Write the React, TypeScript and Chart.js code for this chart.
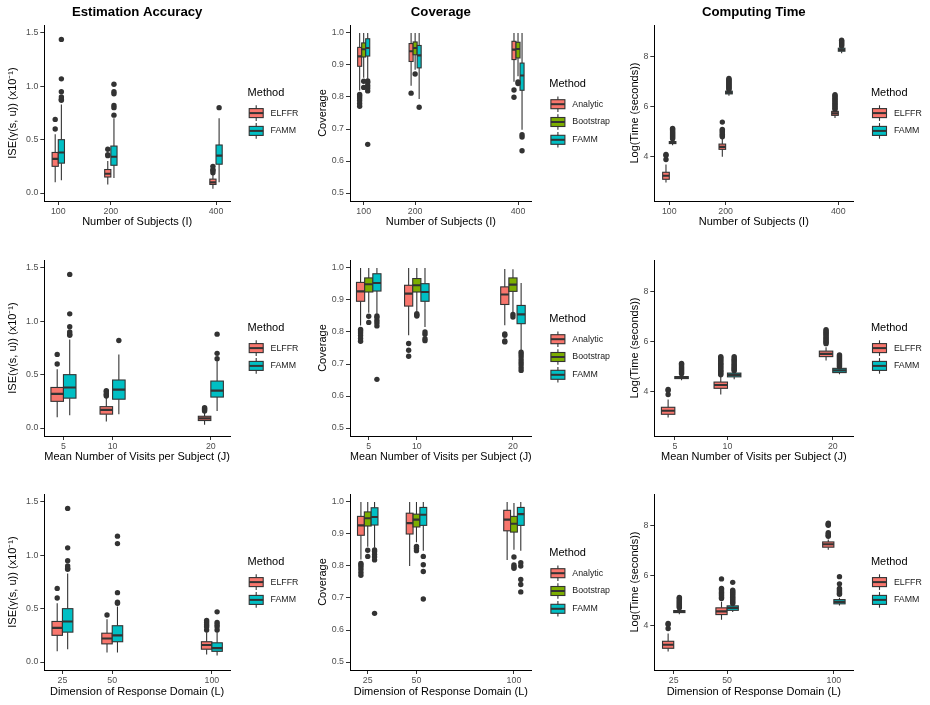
import React, { useEffect, useRef } from 'react';
import { Chart, registerables } from 'chart.js';

Chart.register(...registerables);

const FONT = '"Liberation Sans", Arial, Helvetica, sans-serif';
Chart.defaults.font.family = FONT;

// Simulation settings shown on the x axis of each row
const subjectsI = [100, 200, 400];
const visitsJ = [5, 10, 20];
const domainL = [25, 50, 100];

// y-axis tick values
const iseTicks = [0, 0.5, 1.0, 1.5];
const coverageTicks = [0.5, 0.6, 0.7, 0.8, 0.9, 1.0];
const timeTicks = [4, 6, 8];

// Box summaries per setting: [lower whisker, Q1, median, Q3, upper whisker]; outliers listed separately.
// Baseline scenario (I = 100, J = 5, L = 25) appears in every row.
const baseIseELFFR = [0.10, 0.25, 0.32, 0.38, 0.55];
const baseIseELFFROut = [0.60, 0.69];
const baseIseFAMM = [0.12, 0.28, 0.38, 0.50, 0.83];
const baseIseFAMMOut = [0.87, 0.88, 0.90, 0.95, 1.07, 1.44];

const baseCovAnalytic = [0.82, 0.896, 0.927, 0.955, 1.0];
const baseCovAnalyticOut = [0.771, 0.78, 0.789, 0.797, 0.803, 0.808];
const baseCovBootstrap = [0.86, 0.925, 0.949, 0.969, 1.0];
const baseCovBootstrapOut = [0.83, 0.849];
const baseCovFAMM = [0.857, 0.928, 0.953, 0.982, 1.0];
const baseCovFAMMOut = [0.652, 0.819, 0.828, 0.836, 0.845, 0.85];

const baseTimeELFFR = [2.97, 3.10, 3.24, 3.38, 3.69];
const baseTimeELFFROut = [3.89, 4.05, 4.09];
const baseTimeFAMM = [4.46, 4.53, 4.57, 4.61, 4.68];
const baseTimeFAMMOut = [4.72, 4.76, 4.80, 4.84, 4.88, 4.92, 4.96, 5.00, 5.05, 5.10, 5.14];

// Estimation accuracy
const iseI_ELFFR = [baseIseELFFR, [0.08, 0.15, 0.18, 0.22, 0.30], [0.04, 0.08, 0.10, 0.13, 0.17]];
const iseI_ELFFR_out = [baseIseELFFROut, [0.35, 0.36, 0.41], [0.19, 0.21, 0.22, 0.25]];
const iseI_FAMM = [baseIseFAMM, [0.14, 0.26, 0.34, 0.44, 0.70], [0.10, 0.27, 0.35, 0.45, 0.70]];
const iseI_FAMM_out = [baseIseFAMMOut, [0.73, 0.80, 0.82, 0.93, 0.95, 1.02], [0.80]];

const iseJ_ELFFR = [baseIseELFFR, [0.06, 0.13, 0.17, 0.20, 0.29], [0.03, 0.07, 0.09, 0.11, 0.15]];
const iseJ_ELFFR_out = [baseIseELFFROut, [0.30, 0.31, 0.32, 0.34, 0.35], [0.16, 0.17, 0.18, 0.19]];
const iseJ_FAMM = [baseIseFAMM, [0.13, 0.27, 0.36, 0.45, 0.69], [0.16, 0.29, 0.35, 0.44, 0.64]];
const iseJ_FAMM_out = [baseIseFAMMOut, [0.82], [0.65, 0.70, 0.88]];

const iseL_ELFFR = [baseIseELFFR, [0.09, 0.17, 0.22, 0.27, 0.40], [0.07, 0.12, 0.16, 0.19, 0.28]];
const iseL_ELFFR_out = [baseIseELFFROut, [0.44], [0.30, 0.33, 0.35, 0.37, 0.39]];
const iseL_FAMM = [baseIseFAMM, [0.09, 0.19, 0.25, 0.34, 0.52], [0.06, 0.10, 0.13, 0.18, 0.28]];
const iseL_FAMM_out = [baseIseFAMMOut, [0.55, 0.56, 0.65, 1.11, 1.18], [0.30, 0.33, 0.35, 0.37, 0.47]];

// Coverage
const covI_Analytic = [baseCovAnalytic, [0.835, 0.911, 0.943, 0.967, 1.0], [0.848, 0.917, 0.948, 0.974, 1.0]];
const covI_Analytic_out = [baseCovAnalyticOut, [0.812], [0.799, 0.822]];
const covI_Bootstrap = [baseCovBootstrap, [0.885, 0.932, 0.953, 0.972, 1.0], [0.865, 0.922, 0.950, 0.971, 1.0]];
const covI_Bootstrap_out = [baseCovBootstrapOut, [0.872], [0.842, 0.847]];
const covI_FAMM = [baseCovFAMM, [0.794, 0.891, 0.930, 0.961, 1.0], [0.698, 0.821, 0.867, 0.906, 1.0]];
const covI_FAMM_out = [baseCovFAMMOut, [0.768], [0.632, 0.675, 0.682]];

const covJ_Analytic = [baseCovAnalytic, [0.79, 0.881, 0.920, 0.946, 1.0], [0.821, 0.886, 0.917, 0.941, 0.997]];
const covJ_Analytic_out = [baseCovAnalyticOut, [0.724, 0.743, 0.764], [0.769, 0.772, 0.79, 0.794]];
const covJ_Bootstrap = [baseCovBootstrap, [0.865, 0.925, 0.946, 0.967, 1.0], [0.862, 0.927, 0.948, 0.969, 0.996]];
const covJ_Bootstrap_out = [baseCovBootstrapOut, [0.85, 0.853, 0.857], [0.847, 0.855]];
const covJ_FAMM = [baseCovFAMM, [0.816, 0.896, 0.925, 0.951, 1.0], [0.743, 0.826, 0.855, 0.883, 0.953]];
const covJ_FAMM_out = [baseCovFAMMOut, [0.773, 0.779, 0.793, 0.80], [0.68, 0.688, 0.697, 0.705, 0.713, 0.722, 0.73, 0.737]];

const covL_Analytic = [baseCovAnalytic, [0.80, 0.900, 0.934, 0.965, 1.0], [0.819, 0.910, 0.945, 0.974, 1.0]];
const covL_Analytic_out = [baseCovAnalyticOut, [], []];
const covL_Bootstrap = [baseCovBootstrap, [0.874, 0.922, 0.945, 0.962, 1.0], [0.851, 0.906, 0.932, 0.955, 0.997]];
const covL_Bootstrap_out = [baseCovBootstrapOut, [0.848, 0.855, 0.861], [0.793, 0.798, 0.803, 0.828]];
const covL_FAMM = [baseCovFAMM, [0.848, 0.927, 0.960, 0.983, 1.0], [0.848, 0.927, 0.962, 0.983, 1.0]];
const covL_FAMM_out = [baseCovFAMMOut, [0.697, 0.783, 0.804, 0.830], [0.719, 0.742, 0.758, 0.80, 0.81]];

// Computing time, log seconds
const timeI_ELFFR = [baseTimeELFFR, [4.0, 4.30, 4.40, 4.51, 4.74], [5.55, 5.66, 5.74, 5.82, 5.87]];
const timeI_ELFFR_out = [
  baseTimeELFFROut,
  [4.80, 4.85, 4.90, 4.95, 5.00, 5.05, 5.10, 5.39],
  [5.90, 5.95, 6.00, 6.05, 6.10, 6.15, 6.20, 6.25, 6.30, 6.35, 6.40, 6.45, 6.49],
];
const timeI_FAMM = [baseTimeFAMM, [6.45, 6.52, 6.57, 6.63, 6.67], [8.15, 8.23, 8.28, 8.35, 8.41]];
const timeI_FAMM_out = [
  baseTimeFAMMOut,
  [6.70, 6.74, 6.78, 6.82, 6.86, 6.90, 6.94, 6.98, 7.02, 7.06, 7.10, 7.14],
  [8.44, 8.48, 8.52, 8.56, 8.60, 8.64, 8.67],
];

const timeJ_ELFFR = [baseTimeELFFR, [3.89, 4.14, 4.27, 4.39, 4.64], [5.25, 5.41, 5.52, 5.63, 5.79]];
const timeJ_ELFFR_out = [
  baseTimeELFFROut,
  [4.68, 4.72, 4.77, 4.82, 4.86, 4.91, 4.96, 5.00, 5.05, 5.10, 5.14, 5.19, 5.24, 5.28, 5.33, 5.37, 5.41],
  [5.93, 5.98, 6.03, 6.08, 6.13, 6.18, 6.24, 6.29, 6.34, 6.39, 6.44, 6.49],
];
const timeJ_FAMM = [baseTimeFAMM, [4.50, 4.60, 4.68, 4.75, 4.80], [4.70, 4.77, 4.86, 4.94, 4.97]];
const timeJ_FAMM_out = [
  baseTimeFAMMOut,
  [4.84, 4.88, 4.92, 4.96, 5.00, 5.05, 5.10, 5.15, 5.20, 5.25, 5.30, 5.35, 5.41],
  [5.00, 5.04, 5.08, 5.12, 5.16, 5.20, 5.24, 5.28, 5.32, 5.36, 5.40, 5.44, 5.48],
];

const timeL_ELFFR = [baseTimeELFFR, [4.24, 4.45, 4.58, 4.72, 4.96], [7.05, 7.15, 7.27, 7.36, 7.46]];
const timeL_ELFFR_out = [
  baseTimeELFFROut,
  [5.09, 5.14, 5.19, 5.24, 5.29, 5.34, 5.39, 5.45, 5.50, 5.88],
  [7.59, 7.63, 7.68, 7.73, 8.03, 8.07, 8.11],
];
const timeL_FAMM = [baseTimeFAMM, [4.55, 4.62, 4.72, 4.80, 4.86], [4.81, 4.88, 4.96, 5.05, 5.12]];
const timeL_FAMM_out = [
  baseTimeFAMMOut,
  [4.89, 4.94, 4.99, 5.04, 5.09, 5.14, 5.19, 5.24, 5.29, 5.34, 5.39, 5.43, 5.74],
  [5.26, 5.30, 5.35, 5.40, 5.45, 5.50, 5.68, 5.97],
];

const methodColors: Record<string, string> = {
  ELFFR: '#F8766D',
  Analytic: '#F8766D',
  Bootstrap: '#7CAE00',
  FAMM: '#00BFC4',
};

// Grid geometry (page pixels)
const COLS = [
  { x: 0, w: 305, plotLeft: 44.3, plotRight: 230, yTitleX: 13.3 },
  { x: 305, w: 315, plotLeft: 350, plotRight: 531.7, yTitleX: 323.3 },
  { x: 620, w: 310, plotLeft: 654.3, plotRight: 853.3, yTitleX: 635 },
];
const ROWS = [
  { y: 0, h: 235, plotTop: 25, plotBottom: 201 },
  { y: 235, h: 235, plotTop: 260, plotBottom: 436 },
  { y: 470, h: 235, plotTop: 494, plotBottom: 670 },
];

// x-axis ranges and the total dodge width (x units) for each row
const ROW_X = [
  { xs: subjectsI, min: 73.4, max: 426.6, dodge: 23.5, title: 'Number of Subjects (I)' },
  { xs: visitsJ, min: 3.05, max: 21.95, dodge: 2.55, title: 'Mean Number of Visits per Subject (J)' },
  { xs: domainL, min: 15.9, max: 109.1, dodge: 10.5, title: 'Dimension of Response Domain (L)' },
];

const COL_Y = [
  { min: -0.075, max: 1.575, ticks: iseTicks, decimals: 1, title: 'ISE(γ(s, u)) (x10⁻¹)', header: 'Estimation Accuracy' },
  { min: 0.475, max: 1.025, ticks: coverageTicks, decimals: 1, title: 'Coverage', header: 'Coverage' },
  { min: 2.23, max: 9.28, ticks: timeTicks, decimals: 0, title: 'Log(Time (seconds))', header: 'Computing Time' },
];

type Series = { name: string; stats: number[][]; out: number[][] };
type PanelSpec = { row: number; col: number; series: Series[] };

const PANELS: PanelSpec[] = [
  { row: 0, col: 0, series: [{ name: 'ELFFR', stats: iseI_ELFFR, out: iseI_ELFFR_out }, { name: 'FAMM', stats: iseI_FAMM, out: iseI_FAMM_out }] },
  { row: 0, col: 1, series: [{ name: 'Analytic', stats: covI_Analytic, out: covI_Analytic_out }, { name: 'Bootstrap', stats: covI_Bootstrap, out: covI_Bootstrap_out }, { name: 'FAMM', stats: covI_FAMM, out: covI_FAMM_out }] },
  { row: 0, col: 2, series: [{ name: 'ELFFR', stats: timeI_ELFFR, out: timeI_ELFFR_out }, { name: 'FAMM', stats: timeI_FAMM, out: timeI_FAMM_out }] },
  { row: 1, col: 0, series: [{ name: 'ELFFR', stats: iseJ_ELFFR, out: iseJ_ELFFR_out }, { name: 'FAMM', stats: iseJ_FAMM, out: iseJ_FAMM_out }] },
  { row: 1, col: 1, series: [{ name: 'Analytic', stats: covJ_Analytic, out: covJ_Analytic_out }, { name: 'Bootstrap', stats: covJ_Bootstrap, out: covJ_Bootstrap_out }, { name: 'FAMM', stats: covJ_FAMM, out: covJ_FAMM_out }] },
  { row: 1, col: 2, series: [{ name: 'ELFFR', stats: timeJ_ELFFR, out: timeJ_ELFFR_out }, { name: 'FAMM', stats: timeJ_FAMM, out: timeJ_FAMM_out }] },
  { row: 2, col: 0, series: [{ name: 'ELFFR', stats: iseL_ELFFR, out: iseL_ELFFR_out }, { name: 'FAMM', stats: iseL_FAMM, out: iseL_FAMM_out }] },
  { row: 2, col: 1, series: [{ name: 'Analytic', stats: covL_Analytic, out: covL_Analytic_out }, { name: 'Bootstrap', stats: covL_Bootstrap, out: covL_Bootstrap_out }, { name: 'FAMM', stats: covL_FAMM, out: covL_FAMM_out }] },
  { row: 2, col: 2, series: [{ name: 'ELFFR', stats: timeL_ELFFR, out: timeL_ELFFR_out }, { name: 'FAMM', stats: timeL_FAMM, out: timeL_FAMM_out }] },
];

const OUTLINE = '#333333';

// Dodged x position of a series' box at each setting
function boxCenters(xs: number[], dodge: number, n: number, i: number) {
  const slot = dodge / n;
  return xs.map((x) => x + (i - (n - 1) / 2) * slot);
}

function makeBoxPlugin(p: PanelSpec) {
  const rx = ROW_X[p.row];
  return {
    id: 'boxes',
    beforeDatasetsDraw(chart: any) {
      const { ctx, chartArea, scales } = chart;
      const xs = scales.x;
      const ys = scales.y;
      const n = p.series.length;
      const slot = rx.dodge / n;
      ctx.save();
      ctx.beginPath();
      ctx.rect(chartArea.left, chartArea.top, chartArea.right - chartArea.left, chartArea.bottom - chartArea.top);
      ctx.clip();
      p.series.forEach((s, i) => {
        const centers = boxCenters(rx.xs, rx.dodge, n, i);
        s.stats.forEach((st, k) => {
          const c = centers[k];
          const left = xs.getPixelForValue(c - slot / 2);
          const right = xs.getPixelForValue(c + slot / 2);
          const mid = xs.getPixelForValue(c);
          const [lo, q1, med, q3, hi] = st.map((v) => ys.getPixelForValue(v));
          ctx.strokeStyle = OUTLINE;
          ctx.lineWidth = 1.1;
          ctx.beginPath();
          ctx.moveTo(mid, lo);
          ctx.lineTo(mid, q1);
          ctx.moveTo(mid, q3);
          ctx.lineTo(mid, hi);
          ctx.stroke();
          ctx.fillStyle = methodColors[s.name];
          ctx.fillRect(left, q3, right - left, q1 - q3);
          ctx.strokeRect(left, q3, right - left, q1 - q3);
          ctx.lineWidth = 2.1;
          ctx.beginPath();
          ctx.moveTo(left, med);
          ctx.lineTo(right, med);
          ctx.stroke();
        });
      });
      ctx.restore();
    },
  };
}

function makeLegendPlugin(p: PanelSpec) {
  return {
    id: 'methodLegend',
    afterDraw(chart: any) {
      const { ctx, chartArea } = chart;
      const n = p.series.length;
      const x0 = chartArea.right + 17.6;
      const cy = (chartArea.top + chartArea.bottom) / 2;
      const titleY = cy - 1 - (20 + (n - 1) * 17.8) / 2;
      ctx.save();
      ctx.textAlign = 'left';
      ctx.textBaseline = 'middle';
      ctx.fillStyle = '#000000';
      ctx.font = `11px ${FONT}`;
      ctx.fillText('Method', x0, titleY);
      p.series.forEach((s, i) => {
        const ky = titleY + 20 + i * 17.8;
        const kx = x0 + 8.6;
        ctx.strokeStyle = OUTLINE;
        ctx.lineWidth = 1.1;
        ctx.beginPath();
        ctx.moveTo(kx, ky - 7.8);
        ctx.lineTo(kx, ky + 7.8);
        ctx.stroke();
        ctx.fillStyle = methodColors[s.name];
        ctx.fillRect(kx - 7, ky - 4.5, 14, 9);
        ctx.strokeRect(kx - 7, ky - 4.5, 14, 9);
        ctx.lineWidth = 2;
        ctx.beginPath();
        ctx.moveTo(kx - 7, ky);
        ctx.lineTo(kx + 7, ky);
        ctx.stroke();
        ctx.fillStyle = '#1A1A1A';
        ctx.font = `8.8px ${FONT}`;
        ctx.fillText(s.name, x0 + 23, ky);
      });
      ctx.restore();
    },
  };
}

function makeHeaderPlugin(p: PanelSpec) {
  return {
    id: 'columnHeader',
    afterDraw(chart: any) {
      if (p.row !== 0) return;
      const { ctx, chartArea } = chart;
      ctx.save();
      ctx.textAlign = 'center';
      ctx.textBaseline = 'middle';
      ctx.fillStyle = '#000000';
      ctx.font = `bold 13.2px ${FONT}`;
      ctx.fillText(COL_Y[p.col].header, (chartArea.left + chartArea.right) / 2, 12.3);
      ctx.restore();
    },
  };
}

function buildConfig(p: PanelSpec) {
  const cg = COLS[p.col];
  const rg = ROWS[p.row];
  const rx = ROW_X[p.row];
  const cy = COL_Y[p.col];
  const w = cg.w;
  const h = rg.h;
  const plotLeft = cg.plotLeft - cg.x;
  const plotRight = cg.plotRight - cg.x;
  const plotTop = rg.plotTop - rg.y;
  const plotBottom = rg.plotBottom - rg.y;
  const titleLine = 11 * 1.2;
  const n = p.series.length;

  const datasets = p.series.map((s, i) => {
    const centers = boxCenters(rx.xs, rx.dodge, n, i);
    return {
      label: s.name,
      data: s.out.flatMap((vals, k) => vals.map((v) => ({ x: centers[k], y: v }))),
      pointRadius: 2.7,
      pointHoverRadius: 2.7,
      backgroundColor: OUTLINE,
      borderColor: OUTLINE,
      borderWidth: 0,
      pointBorderWidth: 0,
      showLine: false,
    };
  });

  const tickFont = { size: 8.8, family: FONT };
  const titleFont = { size: 11, family: FONT };

  return {
    type: 'scatter',
    data: { datasets },
    options: {
      responsive: false,
      animation: false,
      events: [],
      layout: { padding: { left: 0, top: plotTop, right: w - plotRight, bottom: 0 } },
      plugins: {
        legend: { display: false },
        tooltip: { enabled: false },
        title: { display: false },
      },
      scales: {
        x: {
          type: 'linear',
          position: 'bottom',
          min: rx.min,
          max: rx.max,
          afterFit: (s: any) => {
            s.height = h - plotBottom;
          },
          afterBuildTicks: (s: any) => {
            s.ticks = rx.xs.map((v) => ({ value: v }));
          },
          ticks: {
            callback: (v: number) => String(v),
            font: tickFont,
            color: '#4D4D4D',
            padding: 1,
            maxRotation: 0,
            autoSkip: false,
          },
          grid: { display: true, drawOnChartArea: false, drawTicks: true, tickLength: 4, color: OUTLINE, lineWidth: 1 },
          border: { display: true, color: '#000000', width: 1 },
          title: { display: true, text: rx.title, font: titleFont, color: '#000000', padding: { top: 0, bottom: 6.4 } },
        },
        y: {
          type: 'linear',
          position: 'left',
          min: cy.min,
          max: cy.max,
          afterFit: (s: any) => {
            s.width = plotLeft;
          },
          afterBuildTicks: (s: any) => {
            s.ticks = cy.ticks.map((v) => ({ value: v }));
          },
          ticks: {
            callback: (v: number) => Number(v).toFixed(cy.decimals),
            font: tickFont,
            color: '#4D4D4D',
            padding: 2,
            autoSkip: false,
          },
          grid: { display: true, drawOnChartArea: false, drawTicks: true, tickLength: 4, color: OUTLINE, lineWidth: 1 },
          border: { display: true, color: '#000000', width: 1 },
          title: {
            display: true,
            text: cy.title,
            font: titleFont,
            color: '#000000',
            padding: { top: cg.yTitleX - cg.x - titleLine / 2, bottom: 0 },
          },
        },
      },
    },
    plugins: [makeBoxPlugin(p), makeLegendPlugin(p), makeHeaderPlugin(p)],
  };
}

function PanelChart({ p }: { p: PanelSpec }) {
  const ref = useRef<HTMLCanvasElement | null>(null);
  const cg = COLS[p.col];
  const rg = ROWS[p.row];
  useEffect(() => {
    if (!ref.current) return;
    const chart = new Chart(ref.current, buildConfig(p) as any);
    return () => chart.destroy();
  }, [p]);
  return (
    <canvas
      ref={ref}
      width={cg.w}
      height={rg.h}
      style={{ position: 'absolute', left: cg.x, top: rg.y, width: cg.w, height: rg.h }}
    />
  );
}

export default function App() {
  return (
    <div style={{ position: 'absolute', left: 0, top: 0, width: 930, height: 705, background: '#ffffff' }}>
      {PANELS.map((p, i) => (
        <PanelChart key={i} p={p} />
      ))}
    </div>
  );
}
